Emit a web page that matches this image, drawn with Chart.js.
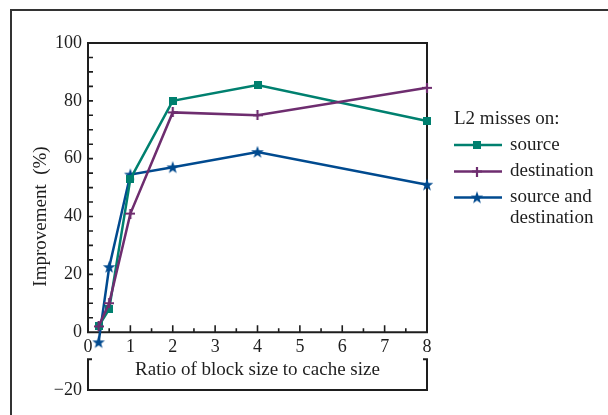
<!DOCTYPE html>
<html>
<head>
<meta charset="utf-8">
<script src="https://cdn.jsdelivr.net/npm/chart.js@4.4.1/dist/chart.umd.min.js"></script>
<style>
  html, body { margin: 0; padding: 0; background: #fff; }
  #wrap { position: relative; width: 608px; height: 415px; overflow: hidden; }
  #frame { position: absolute; left: 10px; top: 9px; width: 700px; height: 500px;
           border-left: 2px solid #333; border-top: 2px solid #333; }
  canvas { position: absolute; left: 0; top: 0; }
</style>
</head>
<body>
<div id="wrap">
  <div id="frame"></div>
  <canvas id="chart" width="608" height="415"></canvas>
</div>
<script>
// block size / cache size ratios
const blockRatios = [0.25, 0.5, 1, 2, 4, 8];
// improvement (%) by where the L2 misses happen
const sourceMisses = [2, 8, 53, 80, 85.5, 73];
const destinationMisses = [2, 10, 41, 76, 75, 84.5];
const bothMisses = [-3.5, 22.5, 54.5, 57, 62.3, 51];

const xTickLabels = ['0', '1', '2', '3', '4', '5', '6', '7', '8'];
const seriesNames = ['source', 'destination', 'source and|destination'];
const seriesColors = ['#00806f', '#6e2d6f', '#004a8f'];
const FONT = '"Liberation Serif", "Times New Roman", serif';
const INK = '#1e1e1e';

Chart.defaults.font.family = FONT;
Chart.defaults.font.size = 18;
Chart.defaults.color = INK;

function makeMarker(kind, color) {
  const c = document.createElement('canvas');
  // size first, resizing a canvas resets its context
  c.width = c.height = kind === 'square' ? 8 : kind === 'plus' ? 10 : 14;
  const g = c.getContext('2d');
  g.fillStyle = color;
  g.strokeStyle = color;
  if (kind === 'square') {
    g.fillRect(0, 0, 8, 8);
  } else if (kind === 'plus') {
    g.lineWidth = 2.2;
    g.beginPath();
    g.moveTo(5, 0); g.lineTo(5, 10);
    g.moveTo(0, 5); g.lineTo(10, 5);
    g.stroke();
  } else {
    const cx = 7, cy = 7.4, ro = 6.6, ri = 2.7;
    g.beginPath();
    for (let i = 0; i < 10; i++) {
      const r = i % 2 ? ri : ro;
      const ang = -Math.PI / 2 + i * Math.PI / 5;
      const px = cx + r * Math.cos(ang), py = cy + r * Math.sin(ang);
      i ? g.lineTo(px, py) : g.moveTo(px, py);
    }
    g.closePath();
    g.fill();
  }
  return c;
}

const markers = [
  makeMarker('square', seriesColors[0]),
  makeMarker('plus', seriesColors[1]),
  makeMarker('star', seriesColors[2])
];

const toPoints = (vals) => vals.map((v, i) => ({ x: blockRatios[i], y: v }));

const paperAxes = {
  id: 'paperAxes',
  beforeDatasetsDraw(chart) {
    const { ctx, chartArea: a, scales: { x, y } } = chart;
    const y0 = y.getPixelForValue(0);
    const gapEnd = y0 + 27;
    ctx.save();
    ctx.strokeStyle = INK;
    ctx.lineWidth = 2;
    // upper box, bottom edge is the x axis at 0
    ctx.beginPath();
    ctx.moveTo(a.left, y0);
    ctx.lineTo(a.left, a.top);
    ctx.lineTo(a.right, a.top);
    ctx.lineTo(a.right, y0);
    ctx.closePath();
    ctx.stroke();
    // lower bracket below the tick labels
    ctx.beginPath();
    ctx.moveTo(a.left + 4, gapEnd);
    ctx.lineTo(a.left, gapEnd);
    ctx.lineTo(a.left, a.bottom);
    ctx.lineTo(a.right, a.bottom);
    ctx.lineTo(a.right, gapEnd);
    ctx.lineTo(a.right - 4, gapEnd);
    ctx.stroke();

    ctx.lineWidth = 1.6;
    ctx.beginPath();
    for (let v = 5; v < 100; v += 5) {
      const py = y.getPixelForValue(v);
      ctx.moveTo(a.left, py);
      ctx.lineTo(a.left + 5, py);
    }
    for (let v = 0.5; v < 8; v += 0.5) {
      const px = x.getPixelForValue(v);
      ctx.moveTo(px, y0);
      ctx.lineTo(px, y0 - (v % 1 === 0 ? 7 : 4));
    }
    ctx.stroke();

    ctx.fillStyle = INK;
    ctx.font = '18px ' + FONT;
    ctx.textAlign = 'center';
    ctx.textBaseline = 'middle';
    xTickLabels.forEach((t, i) => ctx.fillText(t, x.getPixelForValue(i), y0 + 15));
    ctx.font = '19px ' + FONT;
    ctx.fillText('Ratio of block size to cache size', (a.left + a.right) / 2, y0 + 38);

    ctx.save();
    ctx.translate(41, (a.top + a.bottom) / 2);
    ctx.rotate(-Math.PI / 2);
    ctx.fillText('Improvement  (%)', 0, 0);
    ctx.restore();

    // legend
    ctx.textAlign = 'left';
    ctx.fillText('L2 misses on:', 454, 119);
    const rows = [145, 171.5, 197.5];
    seriesNames.forEach((name, i) => {
      const ry = rows[i];
      ctx.strokeStyle = seriesColors[i];
      ctx.lineWidth = 2.5;
      ctx.beginPath();
      ctx.moveTo(454, ry);
      ctx.lineTo(502, ry);
      ctx.stroke();
      const m = markers[i];
      ctx.drawImage(m, 477 - m.width / 2, ry - m.height / 2);
      ctx.fillStyle = INK;
      name.split('|').forEach((line, k) => ctx.fillText(line, 510, ry + k * 21));
    });
    ctx.restore();
  }
};

const datasets = [sourceMisses, destinationMisses, bothMisses].map((vals, i) => ({
  label: seriesNames[i].replace('|', ' '),
  data: toPoints(vals),
  borderColor: seriesColors[i],
  backgroundColor: seriesColors[i],
  borderWidth: 2.5,
  pointStyle: markers[i],
  tension: 0,
  fill: false,
  clip: false
}));

// draw source and destination last like the reference
new Chart(document.getElementById('chart'), {
  type: 'line',
  data: { datasets: [datasets[1], datasets[0], datasets[2]] },
  options: {
    responsive: false,
    animation: false,
    layout: { padding: { left: 0, top: 43, right: 181, bottom: 25 } },
    plugins: { legend: { display: false }, tooltip: { enabled: false } },
    scales: {
      x: { type: 'linear', min: 0, max: 8, display: false },
      y: {
        type: 'linear', min: -20, max: 100,
        afterFit: (s) => { s.width = 88; },
        grid: { display: false, drawTicks: false },
        border: { display: false },
        ticks: {
          stepSize: 20, padding: 6, color: INK,
          callback: (v) => (v < 0 ? '\u2212' + Math.abs(v) : String(v))
        }
      }
    }
  },
  plugins: [paperAxes]
});
</script>
</body>
</html>
